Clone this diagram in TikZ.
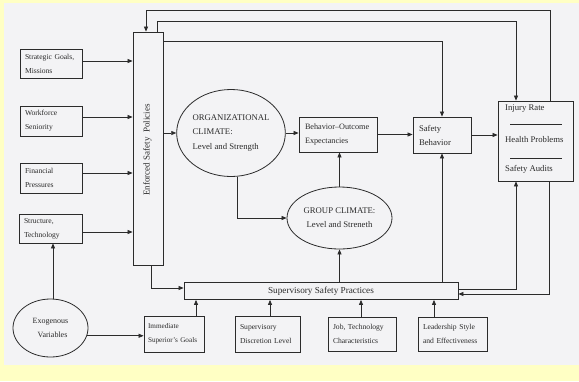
\documentclass[tikz,border=0pt]{standalone}
\usepackage{fontspec}
\setmainfont{Liberation Serif}
\usetikzlibrary{arrows.meta,shapes.geometric}
\definecolor{bgyellow}{HTML}{FFFFC4}
\definecolor{panel}{HTML}{F3F3F5}
\definecolor{ink}{HTML}{2B2B2B}
\begin{document}
\begin{tikzpicture}[x=1pt,y=-1pt,
  sbox/.style={draw=ink, line width=0.8pt, rectangle, inner xsep=5pt, inner ysep=0pt, align=left, text=ink, font=\fontsize{7.6}{14}\selectfont},
  mbox/.style={draw=ink, line width=0.8pt, rectangle, inner xsep=6pt, inner ysep=0pt, align=left, text=ink, font=\fontsize{8.7}{14}\selectfont},
  ell/.style={draw=ink, line width=0.8pt, ellipse, inner sep=0pt, text=ink, font=\fontsize{8.7}{14.5}\selectfont},
  txt/.style={text=ink, inner sep=0pt, font=\fontsize{8.7}{14}\selectfont},
  arr/.style={draw=ink, line width=0.7pt, -{Triangle[length=5pt,width=4pt]}},
  ln/.style={draw=ink, line width=0.7pt}]
\fill[bgyellow] (0,0) rectangle (579,381);
\fill[panel] (4,3) rectangle (579,365);
\useasboundingbox (0,0) rectangle (579,381);

% left column
\node[sbox, minimum width=62pt, minimum height=29pt, text width=52pt] (sg) at (51,63.5) {Strategic Goals,\\Missions};
\node[sbox, minimum width=62pt, minimum height=30pt, text width=52pt] (ws) at (51,121) {Workforce\\Seniority};
\node[sbox, minimum width=62pt, minimum height=30pt, text width=52pt] (fp) at (51,178) {Financial\\Pressures};
\node[sbox, minimum width=63pt, minimum height=29pt, text width=53pt] (st) at (50.5,228.5) {Structure,\\Technology};
\node[ell, minimum width=75pt, minimum height=58pt, align=center, font=\fontsize{8}{14}\selectfont] (exo) at (50.5,328) {Exogenous\\\ \ Variables};

% enforced safety policies
\node[draw=ink, line width=0.8pt, rectangle, minimum width=30pt, minimum height=233pt, inner sep=0pt] (esp) at (148,148.5) {};
\node[txt, rotate=90, font=\fontsize{9}{11}\selectfont] (esplab) at (147.5,150) {Enforced Safety\ \ Policies};

% climates
\node[ell, minimum width=106pt, minimum height=87pt, align=left] (org) at (231,133) {ORGANIZATIONAL\\CLIMATE:\\Level and Strength};
\node[ell, minimum width=105pt, minimum height=62pt, align=center, font=\fontsize{8.7}{14}\selectfont] (grp) at (339.5,218) {GROUP CLIMATE:\\Level and Streneth};

% middle boxes
\node[mbox, minimum width=78pt, minimum height=35pt, text width=66pt, font=\fontsize{8.2}{14}\selectfont] (boe) at (338,134.5) {Behavior–Outcome\\Expectancies};
\node[mbox, minimum width=58pt, minimum height=36pt, text width=46pt] (sb) at (442,135) {Safety\\Behavior};

% outcomes
\node[draw=ink, line width=0.8pt, rectangle, minimum width=75pt, minimum height=80pt, inner sep=0pt] (inj) at (535.5,141) {};
\node[txt, anchor=west] (ir) at (505,109) {Injury Rate};
\node[txt, anchor=west] (hp) at (505,140) {Health Problems};
\node[txt, anchor=west] (sa) at (505,169) {Safety Audits};
\draw[ln] (510,124) -- (562,124);
\draw[ln] (510,158) -- (562,158);

% supervisory practices
\node[draw=ink, line width=0.8pt, rectangle, minimum width=274pt, minimum height=17pt, inner sep=0pt, text=ink, font=\fontsize{9.2}{11}\selectfont] (ssp) at (321,291) {Supervisory Safety Practices};

% bottom row
\node[sbox, minimum width=60pt, minimum height=36pt, text width=52pt, inner xsep=4pt, font=\fontsize{7.2}{14}\selectfont] (isg) at (174,334) {Immediate\\Superior's Goals};
\node[sbox, minimum width=65pt, minimum height=36pt, text width=55pt] (sdl) at (267.5,334) {Supervisory\\Discretion Level};
\node[sbox, minimum width=68pt, minimum height=34pt, text width=58pt] (jtc) at (362,334) {Job, Technology\\Characteristics};
\node[sbox, minimum width=69pt, minimum height=34pt, text width=59pt] (lse) at (452.5,334) {Leadership Style\\and Effectiveness};

% left inputs into enforced policies
\draw[arr] ([yshift=2.5pt]sg.east) -- ([yshift=2.5pt]sg.east -| esp.west);
\draw[arr] ([yshift=4pt]ws.east) -- ([yshift=4pt]ws.east -| esp.west);
\draw[arr] ([yshift=5pt]fp.east) -- ([yshift=5pt]fp.east -| esp.west);
\draw[arr] ([yshift=-3.5pt]st.east) -- ([yshift=-3.5pt]st.east -| esp.west);

% exogenous
\draw[arr] ([xshift=2.5pt]exo.north) -- ([xshift=2.5pt]exo.north |- st.south);
\draw[arr] (exo.-12) -- (exo.-12 -| isg.west);

% main chain
\draw[arr] (esp.east |- org.west) -- (org.west);
\draw[arr] (org.east) -- (org.east -| boe.west);
\draw[arr] (boe.east) -- (boe.east -| sb.west);
\draw[arr] (sb.east) -- (sb.east -| inj.west);
\draw[arr] (grp.north) -- (grp.north |- boe.south);
\draw[arr] ([xshift=6pt]org.south) |- (grp.west);

% enforced -> supervisory
\draw[arr] ([xshift=3pt]esp.south) |- ([yshift=3pt]ssp.west);

% bottom inputs to supervisory
\draw[arr] ([xshift=22pt]isg.north) -- ([xshift=22pt]isg.north |- ssp.south);
\draw[arr] ([xshift=2.5pt]sdl.north) -- ([xshift=2.5pt]sdl.north |- ssp.south);
\draw[arr] ([xshift=-1pt]jtc.north) -- ([xshift=-1pt]jtc.north |- ssp.south);
\draw[arr] ([xshift=-18.5pt]lse.north) -- ([xshift=-18.5pt]lse.north |- ssp.south);

% supervisory outputs
\draw[arr] (grp.south |- ssp.north) -- (grp.south);
\draw[arr] (sb.south |- ssp.north) -- (sb.south);
\draw[arr] ([yshift=2pt]ssp.east) -| ([xshift=-19.5pt]inj.south);
\draw[arr] ([xshift=13.5pt]inj.south) |- ([yshift=-3pt]ssp.east);

% top feedback loops
\coordinate (t1) at (146,10);
\coordinate (t2) at (516,21);
\draw[arr] ([xshift=14.5pt]inj.north) |- (t1) -- (t1 |- esp.north);
\draw[arr] ([xshift=9pt]esp.north) |- (t2) -- (t2 |- inj.north);
\draw[arr] ([yshift=-10pt]esp.north east) -| (sb.north);
\end{tikzpicture}
\end{document}
